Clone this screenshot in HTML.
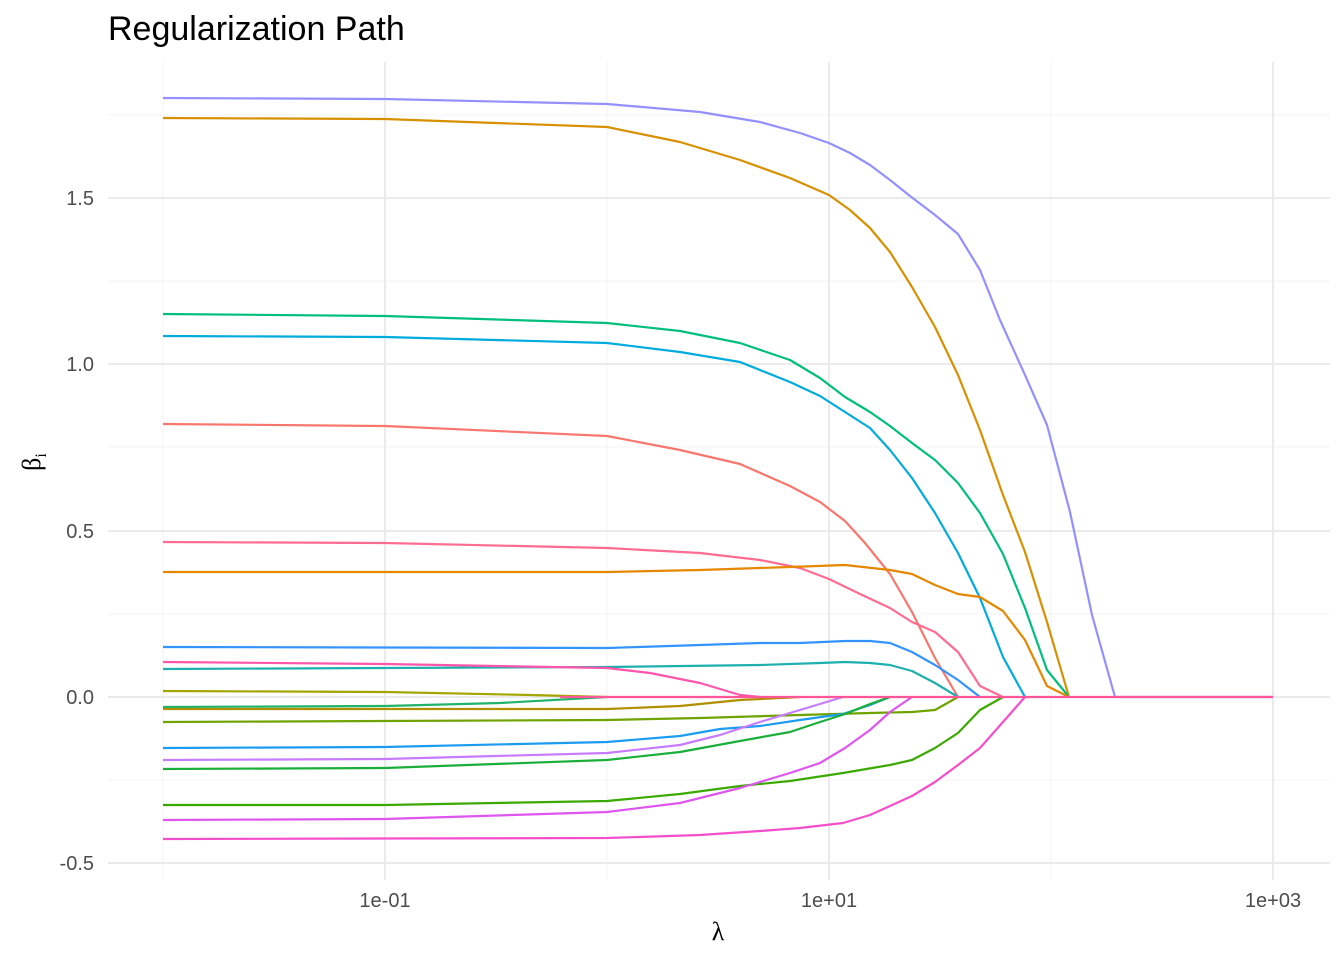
<!DOCTYPE html>
<html><head><meta charset="utf-8"><style>
body{margin:0;background:#fff}
svg{display:block;font-family:"Liberation Sans",sans-serif}
</style></head><body>
<svg width="1344" height="960" viewBox="0 0 1344 960">
<g stroke="#f3f3f3" stroke-width="1">
<line x1="108" x2="1330" y1="115" y2="115"/><line x1="108" x2="1330" y1="281" y2="281"/><line x1="108" x2="1330" y1="447" y2="447"/><line x1="108" x2="1330" y1="614" y2="614"/><line x1="108" x2="1330" y1="780" y2="780"/>
<line y1="62" y2="880" x1="163" x2="163"/><line y1="62" y2="880" x1="607" x2="607"/><line y1="62" y2="880" x1="1051" x2="1051"/>
</g>
<g stroke="#ebebeb" stroke-width="2">
<line x1="108" x2="1330" y1="198" y2="198"/><line x1="108" x2="1330" y1="364" y2="364"/><line x1="108" x2="1330" y1="531" y2="531"/><line x1="108" x2="1330" y1="697" y2="697"/><line x1="108" x2="1330" y1="863" y2="863"/>
<line y1="62" y2="880" x1="385" x2="385"/><line y1="62" y2="880" x1="829" x2="829"/><line y1="62" y2="880" x1="1273" x2="1273"/>
</g>
<g fill="none" stroke-width="2.2" stroke-linejoin="round">
<polyline stroke="#9590FF" points="163,98 385,99 607,104 700,112 760,122 800,133 829,143 850,153 870,165 890,180 910,196 935,215 958,234 980,270 1000,320 1025,375 1047,425 1070,512 1092,615 1115,697 1273,697"/>
<polyline stroke="#D89000" points="163,118 385,119 607,127 680,142 740,160 790,178 829,195 850,210 870,228 890,252 912,287 935,327 958,375 980,430 1003,495 1025,552 1047,622 1069,697"/>
<polyline stroke="#00BF7D" points="163,314 385,316 607,323 680,331 740,343 790,360 820,378 845,397 870,412 890,426 912,443 935,460 958,483 980,513 1003,554 1025,608 1047,670 1069,697"/>
<polyline stroke="#00ABDD" points="163,336 385,337 607,343 680,352 740,362 790,382 820,396 845,412 870,428 890,450 912,478 935,513 958,553 980,598 1003,657 1025,697"/>
<polyline stroke="#F8766D" points="163,424 385,426 607,436 680,450 740,464 790,486 820,502 845,521 865,543 890,574 912,612 935,658 958,697"/>
<polyline stroke="#FF6C91" points="163,542 385,543 607,548 700,553 760,560 800,568 829,579 860,594 890,608 912,622 935,632 958,652 980,686 1003,697"/>
<polyline stroke="#E58700" points="163,572 607,572 700,570 790,567 845,565 890,570 912,574 935,585 958,594 980,597 1003,611 1025,640 1047,686 1069,697"/>
<polyline stroke="#3393FF" points="163,647 607,648 700,645 760,643 800,643 845,641 870,641 890,643 912,652 935,665 958,680 980,697"/>
<polyline stroke="#1EAFAF" points="163,669 607,667 760,665 820,663 845,662 870,663 890,665 912,671 935,683 958,697"/>
<polyline stroke="#FF55AA" points="163,662 385,664 607,668 650,673 700,683 740,695 760,697"/>
<polyline stroke="#A3A500" points="163,691 385,692 530,695 607,697"/>
<polyline stroke="#20B36A" points="163,707 385,706 500,703 607,697"/>
<polyline stroke="#B08F00" points="163,709 607,709 680,706 740,700 800,697"/>
<polyline stroke="#6FA300" points="163,722 607,720 700,718 800,715 870,713 912,712 935,710 958,697"/>
<polyline stroke="#1C9CF0" points="163,748 385,747 607,742 680,736 720,729 760,726 800,720 843,714 870,705 890,697"/>
<polyline stroke="#C77CFF" points="163,760 385,759 607,753 680,745 720,735 760,722 800,710 843,697"/>
<polyline stroke="#1AAE3A" points="163,769 385,768 607,760 680,752 740,741 790,732 820,722 845,714 870,704 890,697"/>
<polyline stroke="#3AAA00" points="163,805 385,805 607,801 680,794 740,786 790,781 843,773 890,765 912,760 935,748 958,733 980,710 1003,697"/>
<polyline stroke="#DF55F0" points="163,820 385,819 607,812 680,803 740,788 790,773 820,763 845,748 870,730 890,712 912,697"/>
<polyline stroke="#F54ECB" points="163,839 607,838 700,835 760,831 800,828 843,823 870,815 890,806 912,796 935,782 958,765 980,748 1003,722 1025,697"/>
<polyline stroke="#FF5599" points="560,697 1273,697"/>
</g>
<g fill="#4d4d4d" font-size="20" text-anchor="end">
<text x="94" y="205">1.5</text><text x="94" y="371">1.0</text><text x="94" y="538">0.5</text><text x="94" y="704">0.0</text><text x="94" y="870">-0.5</text>
</g>
<g fill="#4d4d4d" font-size="20" text-anchor="middle">
<text x="385" y="907">1e-01</text><text x="829" y="907">1e+01</text><text x="1273" y="907">1e+03</text>
</g>
<text x="718" y="940" font-size="26" text-anchor="middle" fill="#000" font-family="Liberation Serif, serif">λ</text>
<text transform="translate(40,462) rotate(-90)" font-size="26" text-anchor="middle" fill="#000" font-family="Liberation Serif, serif">β<tspan font-size="16" dy="6">i</tspan></text>
<text x="108" y="40" font-size="34" fill="#000">Regularization Path</text>
</svg>
</body></html>
